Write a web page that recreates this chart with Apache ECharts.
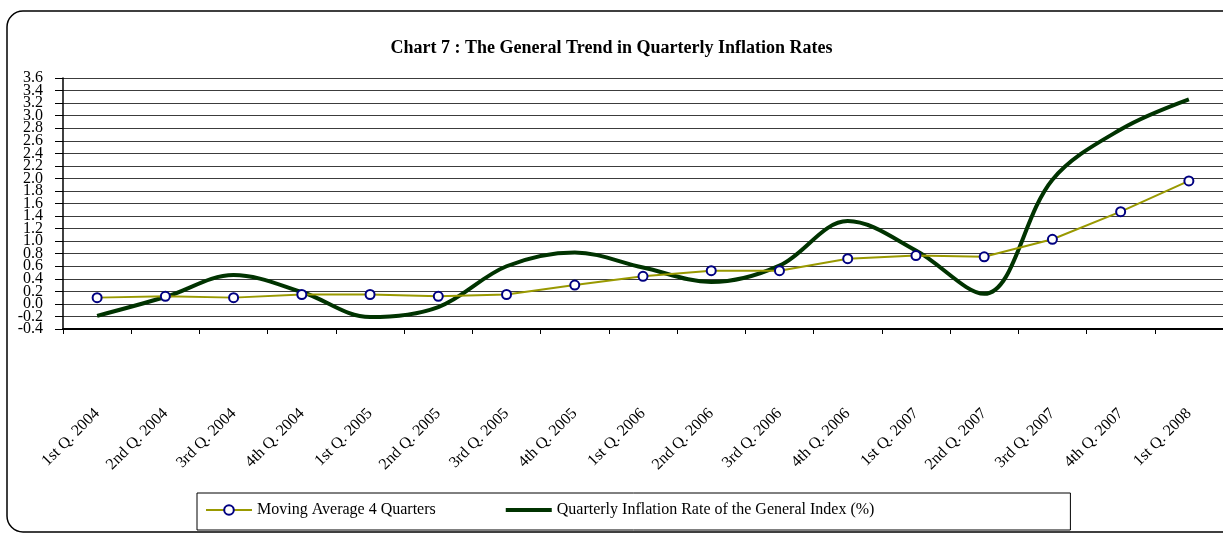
<!DOCTYPE html>
<html>
<head>
<meta charset="utf-8">
<script src="https://cdn.jsdelivr.net/npm/echarts@6/dist/echarts.min.js"></script>
<style>
html,body{margin:0;padding:0;background:#fff;}
#chart{width:1223px;height:533px;}
</style>
</head>
<body>
<div id="chart"></div>
<script>
const categories = ['1st Q. 2004','2nd Q. 2004','3rd Q. 2004','4th Q. 2004',
  '1st Q. 2005','2nd Q. 2005','3rd Q. 2005','4th Q. 2005',
  '1st Q. 2006','2nd Q. 2006','3rd Q. 2006','4th Q. 2006',
  '1st Q. 2007','2nd Q. 2007','3rd Q. 2007','4th Q. 2007','1st Q. 2008'];
const movingAverage = [0.10, 0.12, 0.10, 0.15, 0.15, 0.12, 0.15, 0.30, 0.44, 0.53, 0.53, 0.72, 0.77, 0.75, 1.03, 1.47, 1.96];
const quarterlyRate = [-0.19, 0.11, 0.46, 0.19, -0.21, -0.05, 0.60, 0.82, 0.58, 0.35, 0.61, 1.32, 0.85, 0.16, 1.98, 2.78, 3.26];
const yTickLabels = [-0.4, -0.2, 0.0, 0.2, 0.4, 0.6, 0.8, 1.0, 1.2, 1.4, 1.6, 1.8, 2.0, 2.2, 2.4, 2.6, 2.8, 3.0, 3.2, 3.4, 3.6];
const yMin = -0.4, yMax = 3.6, yStep = 0.2;
const titleText = 'Chart 7 : The General Trend in Quarterly Inflation Rates';
const seriesNames = ['Moving Average 4 Quarters', 'Quarterly Inflation Rate of the General Index (%)'];

// split labels into two interleaved sets so the tightly packed labels are all drawn
const labelsA = yTickLabels.filter((v, i) => i % 2 === 0);
const labelsB = yTickLabels.filter((v, i) => i % 2 === 1);

const serif = '"Liberation Serif", "Times New Roman", serif';
const yLabelStyle = {margin: 20, fontFamily: serif, fontSize: 16, color: '#000',
  showMinLabel: true, showMaxLabel: true, formatter: v => v.toFixed(1)};

const chart = echarts.init(document.getElementById('chart'), null, {renderer: 'canvas'});
chart.setOption({
  backgroundColor: '#ffffff',
  animation: false,
  graphic: [{
    type: 'rect', z: -10, silent: true,
    shape: {x: 7, y: 11, width: 1240, height: 521, r: 16},
    style: {fill: 'none', stroke: '#000', lineWidth: 1.5}
  }],
  title: {
    text: titleText, left: 'center', top: 34,
    textStyle: {fontFamily: serif, fontWeight: 'bold', fontSize: 18, color: '#000'}
  },
  legend: {
    left: 197, top: 493,
    padding: [9, 196, 12, 8],
    borderColor: '#000', borderWidth: 1,
    itemWidth: 46, itemHeight: 12, itemGap: 70,
    textStyle: {fontFamily: serif, fontSize: 16, color: '#000'},
    data: [
      {name: seriesNames[0]},
      {name: seriesNames[1], icon: 'path://M0,0 L46,0 L46,4 L0,4 Z'}
    ]
  },
  grid: {left: 63, top: 78, width: 1166, height: 251, containLabel: false},
  xAxis: {
    type: 'category', data: categories, boundaryGap: true,
    axisLine: {show: true, onZero: false, lineStyle: {color: '#000', width: 2}},
    axisTick: {show: true, interval: 0, length: 5, lineStyle: {color: '#000'}},
    axisLabel: {interval: 0, rotate: 45, margin: 82, fontFamily: serif, fontSize: 16, color: '#000'},
    splitLine: {show: false}
  },
  yAxis: [{
    type: 'value', position: 'left', min: yMin, max: yMax, interval: yStep,
    axisLine: {show: true, onZero: false, lineStyle: {color: '#000', width: 1.5}},
    axisTick: {show: true, length: 8, lineStyle: {color: '#000'}},
    axisLabel: Object.assign({customValues: labelsA}, yLabelStyle),
    splitLine: {show: true, lineStyle: {color: '#3c3c3c', width: 1}}
  }, {
    type: 'value', position: 'left', offset: 0, min: yMin, max: yMax, interval: yStep,
    axisLine: {show: false, onZero: false},
    axisTick: {show: false},
    axisLabel: Object.assign({customValues: labelsB}, yLabelStyle),
    splitLine: {show: false}
  }],
  series: [{
    name: seriesNames[0], type: 'line', data: movingAverage,
    symbol: 'circle', symbolSize: 9,
    lineStyle: {color: '#999900', width: 2},
    itemStyle: {color: '#ffffff', borderColor: '#000080', borderWidth: 2},
    z: 3
  }, {
    name: seriesNames[1], type: 'line', data: quarterlyRate,
    symbol: 'none', smooth: 0.35,
    lineStyle: {color: '#003300', width: 4},
    itemStyle: {color: '#003300'},
    z: 2
  }]
});
</script>
</body>
</html>
